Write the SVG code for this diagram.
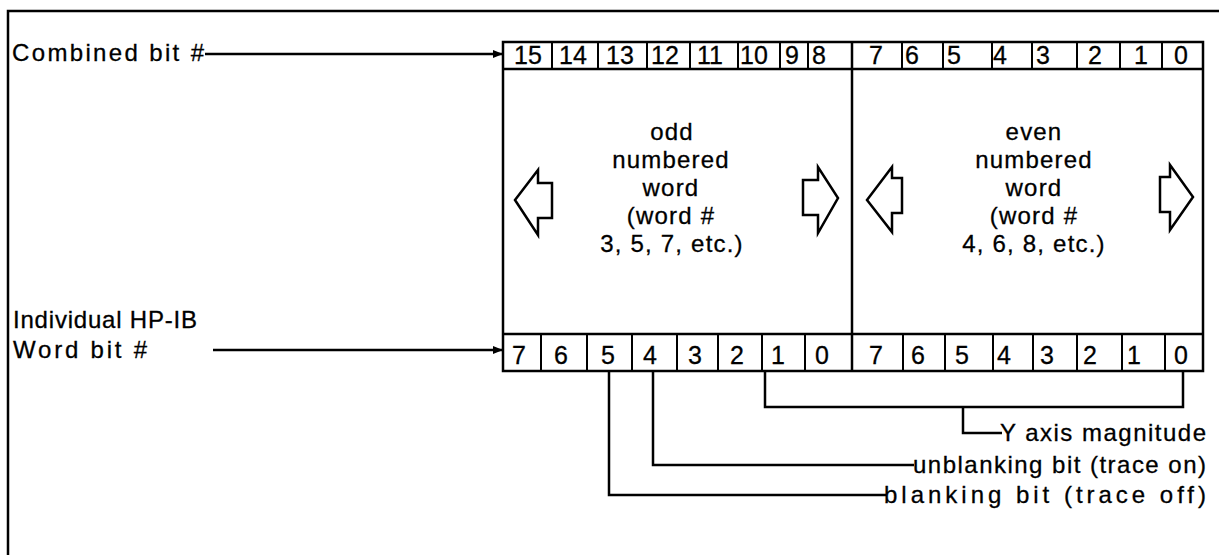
<svg xmlns="http://www.w3.org/2000/svg" width="1219" height="555" viewBox="0 0 1219 555">
<style>
.ln{fill:none;stroke:#000;stroke-width:2.5}
.cell{fill:none;stroke:#000;stroke-width:2}
.dg{font-family:"Liberation Sans",Arial,sans-serif;font-size:25px;fill:#000;stroke:#000;stroke-width:0.3}
.tx{font-family:"Liberation Sans",Arial,sans-serif;font-size:24px;fill:#000;stroke:#000;stroke-width:0.3}
.ct{font-family:"Liberation Sans",Arial,sans-serif;font-size:24px;fill:#000;stroke:#000;stroke-width:0.3;text-anchor:middle;letter-spacing:1.2px}
.blk{fill:#fff;stroke:#000;stroke-width:2.5;stroke-linejoin:miter}
</style>
<defs>
<marker id="ah" viewBox="0 0 10 10" refX="10" refY="5" markerWidth="10" markerHeight="10" markerUnits="userSpaceOnUse" orient="auto">
<path d="M0,1 L10,5 L0,9 z" fill="#000"/>
</marker>
</defs>
<rect width="1219" height="555" fill="#fff"/>
<g id="frame">
<path class="ln" d="M8,555 V11 H1219"/>
</g>
<g id="labels-left">
<text class="tx" x="12" y="61" textLength="192" lengthAdjust="spacing">Combined bit #</text>
<text class="tx" x="13" y="328" textLength="184" lengthAdjust="spacing">Individual HP-IB</text>
<text class="tx" x="13" y="358" textLength="134" lengthAdjust="spacing">Word bit #</text>
</g>
<g id="register">
<rect class="ln" x="503" y="42" width="700" height="329"/>
<path class="ln" d="M503,69 H1203 M503,334 H1203 M852,42 V371"/>
<path class="cell" d="M552,42 V69 M598,42 V69 M647,42 V69 M690,42 V69 M738,42 V69 M780,42 V69 M808,42 V69 M902,42 V69 M943,42 V69 M992,42 V69 M1032,42 V69 M1077,42 V69 M1120,42 V69 M1162,42 V69"/>
<path class="cell" d="M541,334 V371 M587,334 V371 M632,334 V371 M677,334 V371 M718,334 V371 M762,334 V371 M805,334 V371 M903,334 V371 M945,334 V371 M993,334 V371 M1033,334 V371 M1077,334 V371 M1122,334 V371 M1165,334 V371"/>
</g>
<g id="combined-bits">
<text class="dg" x="514" y="64">15</text>
<text class="dg" x="559" y="64">14</text>
<text class="dg" x="606" y="64">13</text>
<text class="dg" x="651" y="64">12</text>
<text class="dg" x="697" y="64">11</text>
<text class="dg" x="740" y="64">10</text>
<text class="dg" x="785" y="64">9</text>
<text class="dg" x="812" y="64">8</text>
<text class="dg" x="869" y="64">7</text>
<text class="dg" x="905" y="64">6</text>
<text class="dg" x="947" y="64">5</text>
<text class="dg" x="993" y="64">4</text>
<text class="dg" x="1036" y="64">3</text>
<text class="dg" x="1088" y="64">2</text>
<text class="dg" x="1134" y="64">1</text>
<text class="dg" x="1174" y="64">0</text>
</g>
<g id="word-bits">
<text class="dg" x="512" y="364">7</text>
<text class="dg" x="554" y="364">6</text>
<text class="dg" x="601" y="364">5</text>
<text class="dg" x="643" y="364">4</text>
<text class="dg" x="688" y="364">3</text>
<text class="dg" x="730" y="364">2</text>
<text class="dg" x="771" y="364">1</text>
<text class="dg" x="815" y="364">0</text>
<text class="dg" x="869" y="364">7</text>
<text class="dg" x="911" y="364">6</text>
<text class="dg" x="955" y="364">5</text>
<text class="dg" x="997" y="364">4</text>
<text class="dg" x="1040" y="364">3</text>
<text class="dg" x="1083" y="364">2</text>
<text class="dg" x="1127" y="364">1</text>
<text class="dg" x="1174" y="364">0</text>
</g>
<g id="odd-word">
<text class="ct" x="672" y="140">odd</text>
<text class="ct" x="671" y="168">numbered</text>
<text class="ct" x="671" y="196">word</text>
<text class="ct" x="671" y="224">(word #</text>
<text class="ct" x="672" y="252">3, 5, 7, etc.)</text>
<polygon class="blk" points="515,200 538,170 538,183 552,183 552,218 538,218 538,235"/>
<polygon class="blk" points="803,180 818,180 818,167 838,198 818,233 818,215 803,215"/>
</g>
<g id="even-word">
<text class="ct" x="1034" y="140">even</text>
<text class="ct" x="1034" y="168">numbered</text>
<text class="ct" x="1034" y="196">word</text>
<text class="ct" x="1034" y="224">(word #</text>
<text class="ct" x="1034" y="252">4, 6, 8, etc.)</text>
<polygon class="blk" points="867,200 892,167 892,178 902,178 902,213 892,213 892,232"/>
<polygon class="blk" points="1160,177 1170,177 1170,165 1193,197 1170,230 1170,212 1160,212"/>
</g>
<g id="labels-right">
<text class="tx" x="1000" y="441" textLength="206" lengthAdjust="spacing">Y axis magnitude</text>
<text class="tx" x="913" y="473" textLength="293" lengthAdjust="spacing">unblanking bit (trace on)</text>
<text class="tx" x="884" y="503" textLength="322" lengthAdjust="spacing">blanking bit (trace off)</text>
</g>
<g id="connectors">
<path class="ln" marker-end="url(#ah)" d="M205,54 H503"/>
<path class="ln" marker-end="url(#ah)" d="M213,350 H503"/>
<path class="ln" d="M765,371 V407 H1183 V371"/>
<path class="ln" d="M963,407 V433 H1002"/>
<path class="ln" d="M653,371 V465 H914"/>
<path class="ln" d="M609,371 V495 H886"/>
</g>
</svg>
